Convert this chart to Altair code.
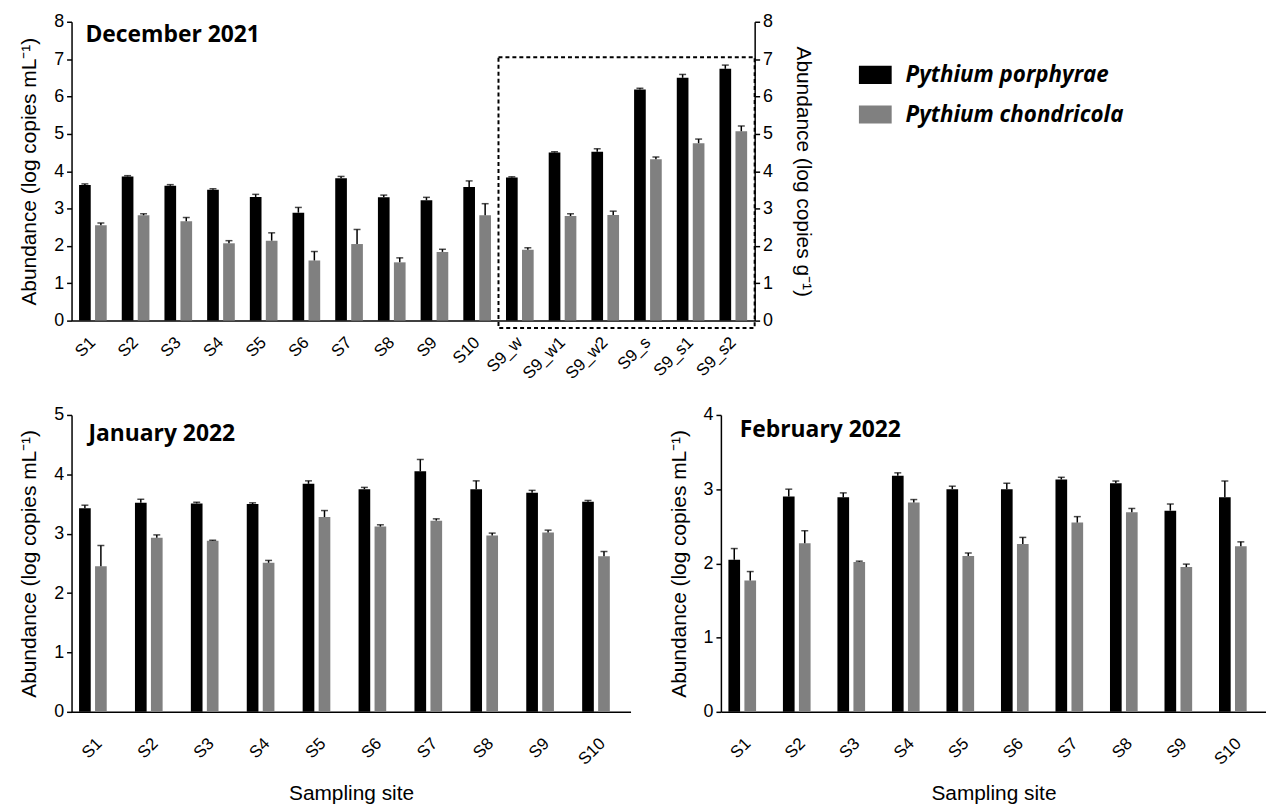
import altair as alt
import pandas as pd

SPECIES = ["Pythium porphyrae", "Pythium chondricola"]
COLORS = ["#000000", "#808080"]

DEC_SITES = ["S1", "S2", "S3", "S4", "S5", "S6", "S7", "S8", "S9", "S10",
             "S9_w", "S9_w1", "S9_w2", "S9_s", "S9_s1", "S9_s2"]
DEC_PP = [3.63, 3.86, 3.61, 3.50, 3.31, 2.89, 3.81, 3.30, 3.22, 3.58,
          3.83, 4.50, 4.52, 6.19, 6.50, 6.74]
DEC_PP_ERR = [0.03, 0.02, 0.03, 0.03, 0.07, 0.14, 0.05, 0.06, 0.08, 0.16,
              0.02, 0.02, 0.08, 0.03, 0.09, 0.10]
DEC_PC = [2.55, 2.82, 2.66, 2.07, 2.14, 1.61, 2.05, 1.56, 1.84, 2.82,
          1.90, 2.80, 2.83, 4.32, 4.75, 5.07]
DEC_PC_ERR = [0.06, 0.04, 0.10, 0.07, 0.21, 0.24, 0.39, 0.12, 0.07, 0.31,
              0.05, 0.06, 0.10, 0.06, 0.11, 0.14]

SITES = ["S1", "S2", "S3", "S4", "S5", "S6", "S7", "S8", "S9", "S10"]
JAN_PP = [3.43, 3.52, 3.51, 3.50, 3.84, 3.75, 4.05, 3.75, 3.69, 3.54]
JAN_PP_ERR = [0.05, 0.06, 0.02, 0.02, 0.05, 0.03, 0.20, 0.14, 0.04, 0.02]
JAN_PC = [2.45, 2.93, 2.88, 2.51, 3.28, 3.12, 3.22, 2.97, 3.02, 2.62]
JAN_PC_ERR = [0.35, 0.05, 0.01, 0.04, 0.11, 0.03, 0.03, 0.04, 0.04, 0.08]

FEB_PP = [2.05, 2.90, 2.89, 3.18, 3.00, 3.00, 3.13, 3.08, 2.71, 2.89]
FEB_PP_ERR = [0.15, 0.10, 0.06, 0.04, 0.04, 0.08, 0.03, 0.03, 0.09, 0.22]
FEB_PC = [1.77, 2.27, 2.02, 2.82, 2.10, 2.26, 2.55, 2.69, 1.95, 2.23]
FEB_PC_ERR = [0.12, 0.17, 0.01, 0.04, 0.04, 0.09, 0.08, 0.05, 0.04, 0.06]

PANEL_TITLES = ["December 2021", "January 2022", "February 2022"]
Y_TITLE_ML = "Abundance (log copies mL\u207b\u00b9)"
Y_TITLE_G = "Abundance (log copies g\u207b\u00b9)"
X_TITLE = "Sampling site"

BOX_SITES = ["S9_w", "S9_s2"]
BOX_Y = [7.05, -0.2]

LABEL_FONT = "Liberation Sans"
BOLD_FONT = "Open Sans"


def make_df(sites, pp, pp_err, pc, pc_err):
    rows = []
    for i, s in enumerate(sites):
        rows.append({"site": s, "species": SPECIES[0], "value": pp[i], "upper": pp[i] + pp_err[i]})
        rows.append({"site": s, "species": SPECIES[1], "value": pc[i], "upper": pc[i] + pc_err[i]})
    return pd.DataFrame(rows)


def y_axis(ymax, title, orient="left", title_pad=14):
    return alt.Axis(values=list(range(ymax + 1)), format="d", labelOverlap=False,
                    labelFlush=False, tickSize=5, labelPadding=3,
                    titlePadding=title_pad, title=title, orient=orient)


def panel(df, sites, ymax, title, width, height, tdx, tdy, xaxis, legend):
    x = alt.X("site:N", scale=alt.Scale(domain=sites, paddingInner=0, paddingOuter=0), axis=xaxis)
    xo = alt.XOffset("species:N", scale=alt.Scale(domain=SPECIES, paddingInner=0.27, paddingOuter=0.47))
    yscale = alt.Scale(domain=[0, ymax], nice=False)
    color = alt.Color("species:N", scale=alt.Scale(domain=SPECIES, range=COLORS), legend=legend)
    bars = alt.Chart(df).mark_bar().encode(
        x=x, xOffset=xo,
        y=alt.Y("value:Q", scale=yscale, axis=y_axis(ymax, Y_TITLE_ML), title=Y_TITLE_ML),
        color=color,
    )
    rules = alt.Chart(df).mark_rule(color="black", strokeWidth=1.5).encode(
        x=x, xOffset=xo,
        y=alt.Y("value:Q", scale=yscale, axis=y_axis(ymax, Y_TITLE_ML), title=Y_TITLE_ML),
        y2="upper:Q",
    )
    caps = alt.Chart(df).mark_tick(color="black", size=7, thickness=1.5).encode(
        x=x, xOffset=xo,
        y=alt.Y("upper:Q", scale=yscale, axis=y_axis(ymax, Y_TITLE_ML), title=Y_TITLE_ML),
    )
    txt = alt.Chart(pd.DataFrame({"t": [title]})).mark_text(
        align="left", baseline="middle", font=BOLD_FONT, fontWeight="bold",
        fontSize=23, color="black",
    ).encode(text="t:N", x=alt.value(tdx), y=alt.value(tdy))
    return alt.layer(bars, rules, caps, txt).properties(width=width, height=height)


dec_df = make_df(DEC_SITES, DEC_PP, DEC_PP_ERR, DEC_PC, DEC_PC_ERR)
jan_df = make_df(SITES, JAN_PP, JAN_PP_ERR, JAN_PC, JAN_PC_ERR)
feb_df = make_df(SITES, FEB_PP, FEB_PP_ERR, FEB_PC, FEB_PC_ERR)

top_xaxis = alt.Axis(title=None, labelAngle=-45, labelAlign="right", labelBaseline="middle",
                     ticks=False, labelPadding=19, labelFontSize=17)
bot_xaxis = alt.Axis(title=X_TITLE, labelAngle=-45, labelAlign="right", labelBaseline="middle",
                     ticks=False, labelPadding=29, labelFontSize=17, titlePadding=15)

legend = alt.Legend(
    title=None, orient="none", legendX=793, legendY=37,
    symbolType="M-1,-0.55H1V0.55H-1Z", symbolSize=1089, symbolStrokeWidth=0,
    labelFont=BOLD_FONT, labelFontWeight="bold", labelFontStyle="italic",
    labelFontSize=22.5, labelColor="black", labelOffset=14, rowPadding=12, labelLimit=400,
)

dec_inner = panel(dec_df, DEC_SITES, 8, PANEL_TITLES[0], 688, 301, 14, 13, top_xaxis, legend)

box_df = pd.DataFrame({"site": [BOX_SITES[0]], "site_end": [BOX_SITES[1]],
                       "ytop": [BOX_Y[0]], "ybot": [BOX_Y[1]]})
box = alt.Chart(box_df).mark_rect(fillOpacity=0, stroke="black", strokeWidth=2,
                                  strokeDash=[4, 3]).encode(
    x=alt.X("site:N", bandPosition=0,
            scale=alt.Scale(domain=DEC_SITES, paddingInner=0, paddingOuter=0)),
    x2=alt.X2("site_end", bandPosition=1),
    y=alt.Y("ytop:Q", scale=alt.Scale(domain=[0, 8], nice=False),
            axis=y_axis(8, Y_TITLE_G, orient="right", title_pad=20)),
    y2="ybot:Q",
)

dec = alt.layer(dec_inner, box).resolve_scale(y="independent")

jan = panel(jan_df, SITES, 5, PANEL_TITLES[1], 563, 299, 17, 19, bot_xaxis, None)
feb = panel(feb_df, SITES, 4, PANEL_TITLES[2], 549, 299, 19, 15, bot_xaxis, None)

chart = alt.vconcat(
    dec,
    alt.hconcat(jan, feb, spacing=37),
    spacing=24,
).properties(
    padding={"left": 10, "top": 2, "right": 0, "bottom": 0}
).configure_view(stroke=None).configure_axis(
    grid=False, domainColor="black", domainWidth=1.5, tickColor="black", tickWidth=1.5,
    labelColor="black", titleColor="black", labelFont=LABEL_FONT, titleFont=LABEL_FONT,
    labelFontSize=18, titleFontSize=21, titleFontWeight="normal",
)

chart.save("out.html", embed_options={"renderer": "svg", "actions": False})
